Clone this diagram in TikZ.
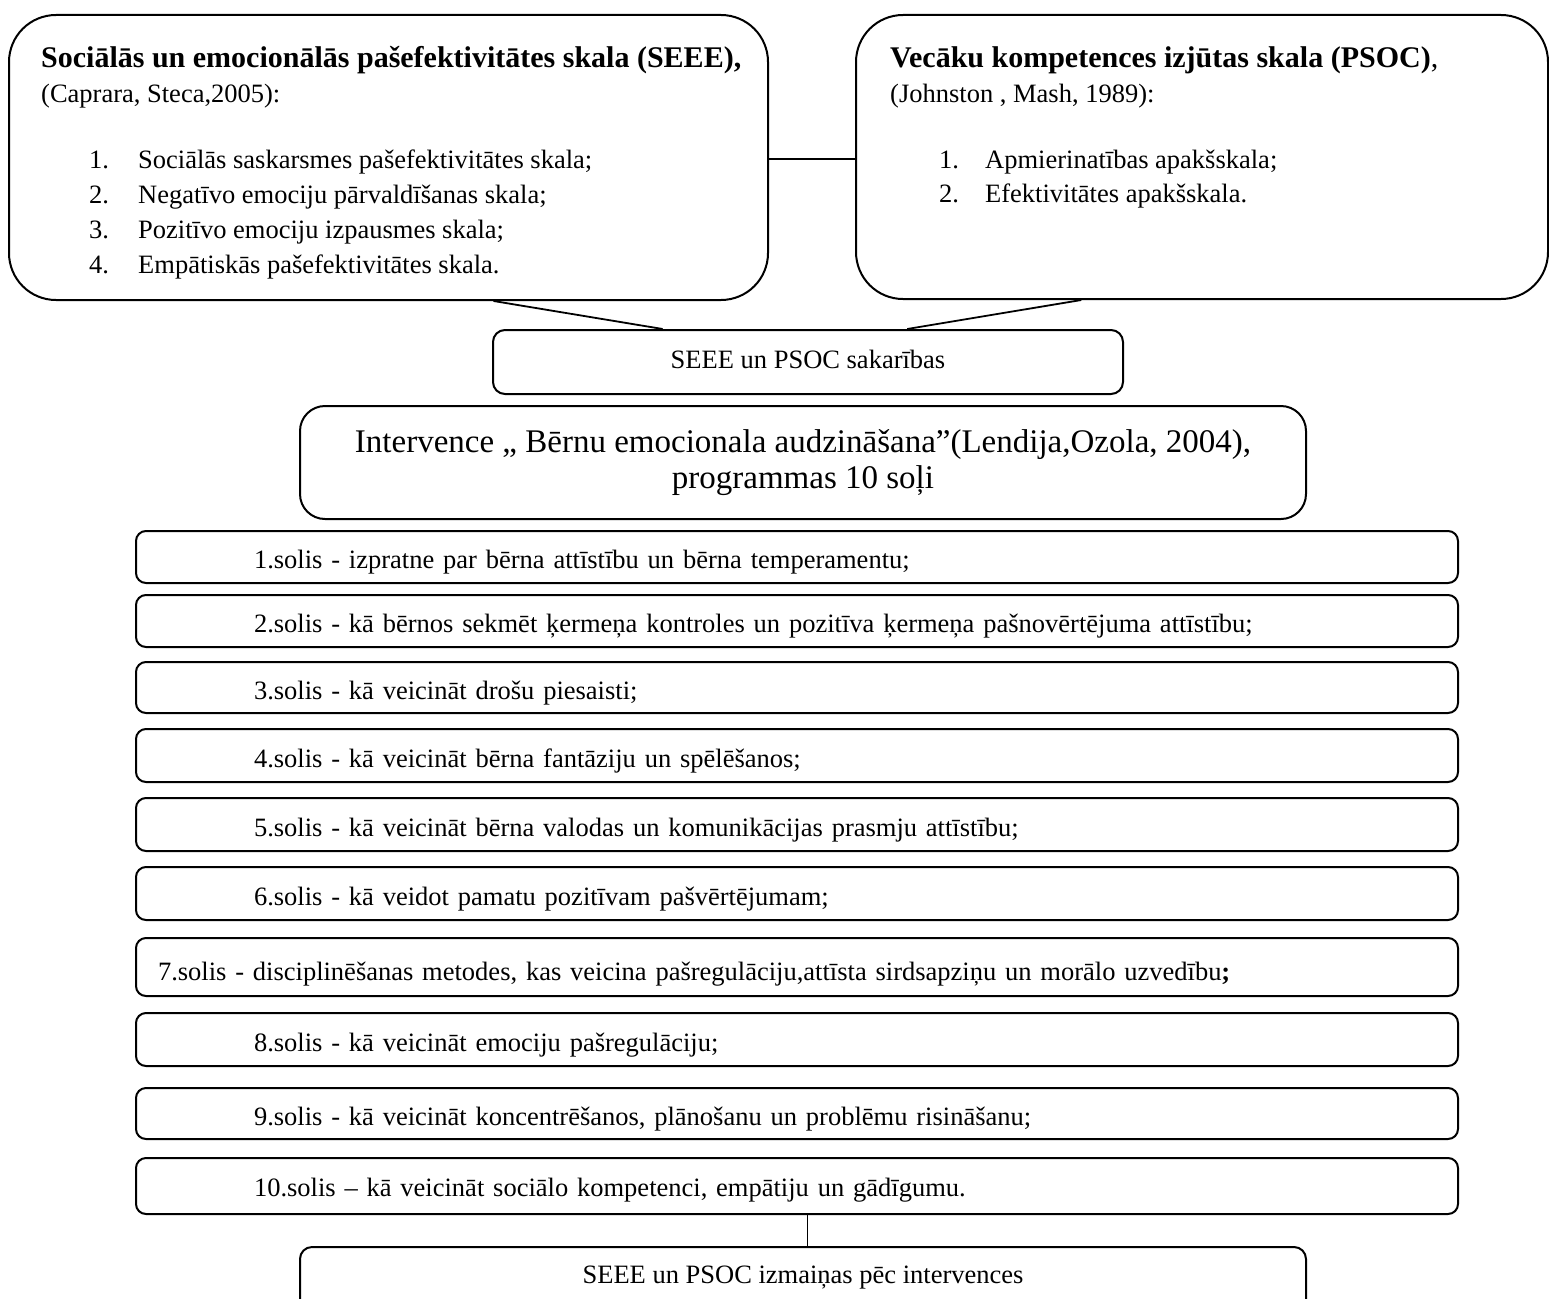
\documentclass[tikz,border=0pt]{standalone}
\usepackage{fontspec}
\setmainfont{Liberation Serif}
\usetikzlibrary{calc}
\newcommand{\mainfs}{\fontsize{26.5pt}{34pt}\selectfont}
\newcommand{\titlefs}{\fontsize{30pt}{34pt}\selectfont}
\newcommand{\bigfs}{\fontsize{33pt}{36pt}\selectfont}
\tikzset{
  boxline/.style={draw=black, line width=2pt, fill=white},
  bigbox/.style={boxline, rounded corners=47pt},
  stepbox/.style={boxline, rounded corners=10pt, minimum width=1322pt,
    text width=1086pt, inner xsep=118pt, inner ysep=0pt, align=left,
    text height=23pt, text depth=0pt, font=\mainfs},
  txt/.style={inner sep=0pt, anchor=base west, font=\mainfs},
  ttl/.style={inner sep=0pt, anchor=base west, font=\titlefs},
  conn/.style={draw=black, line width=1.8pt},
}
\begin{document}
\begin{tikzpicture}[x=1pt,y=-1pt]
\path[use as bounding box, clip] (0,0) rectangle (1549,1298);
\fill[white] (0,0) rectangle (1549,1298);

% top boxes
\node[bigbox, minimum width=759pt, minimum height=285pt] (lt) at (388.5,157.5) {};
\node[bigbox, minimum width=692pt, minimum height=284pt] (rt) at (1202,157) {};

\node[ttl] (ltA) at (41,67) {\textbf{Sociālās un emocionālās pašefektivitātes skala (SEEE),}};
\node[txt] (ltB) at (41,102) {(Caprara, Steca,2005):};
\node[txt] (lt1) at (89,168) {\makebox[49pt][l]{1.}Sociālās saskarsmes pašefektivitātes skala;};
\node[txt] (lt2) at (89,203) {\makebox[49pt][l]{2.}Negatīvo emociju pārvaldīšanas skala;};
\node[txt] (lt3) at (89,238) {\makebox[49pt][l]{3.}Pozitīvo emociju izpausmes skala;};
\node[txt] (lt4) at (89,273) {\makebox[49pt][l]{4.}Empātiskās pašefektivitātes skala.};

\node[ttl] (rtA) at (890,67) {\textbf{Vecāku kompetences izjūtas skala (PSOC)},};
\node[txt] (rtB) at (890,102) {(Johnston , Mash, 1989):};
\node[txt] (rt1) at (939,168) {\makebox[46pt][l]{1.}Apmierinatības apakšskala;};
\node[txt] (rt2) at (939,202) {\makebox[46pt][l]{2.}Efektivitātes apakšskala.};

% middle boxes
\node[boxline, rounded corners=12pt, minimum width=630pt, minimum height=64pt,
  text height=18pt, text depth=6pt, font=\mainfs] (sk) at (808,362) {SEEE un PSOC sakarības};
\node[boxline, rounded corners=25pt, minimum width=1006pt, minimum height=113pt,
  align=center, font=\bigfs] (iv) at (803,462.5)
  {Intervence „ Bērnu emocionala audzināšana”(Lendija,Ozola, 2004),\\programmas 10 soļi};

% steps
\node[stepbox, minimum height=52pt] (s1) at (797,557) {1.solis - izpratne par bērna attīstību un bērna temperamentu;};
\node[stepbox, minimum height=52pt] (s2) at (797,621) {2.solis - kā bērnos sekmēt ķermeņa kontroles un pozitīva ķermeņa pašnovērtējuma attīstību;};
\node[stepbox, minimum height=51pt] (s3) at (797,687.5) {3.solis - kā veicināt drošu piesaisti;};
\node[stepbox, minimum height=53pt] (s4) at (797,755.5) {4.solis - kā veicināt bērna fantāziju un spēlēšanos;};
\node[stepbox, minimum height=53pt] (s5) at (797,824.5) {5.solis - kā veicināt bērna valodas un komunikācijas prasmju attīstību;};
\node[stepbox, minimum height=53pt] (s6) at (797,893.5) {6.solis - kā veidot pamatu pozitīvam pašvērtējumam;};
\node[stepbox, minimum height=58pt, inner xsep=22pt, text width=1278pt, text height=26pt] (s7) at (797,967) {7.solis - disciplinēšanas metodes, kas veicina pašregulāciju,attīsta sirdsapziņu un morālo uzvedību\textbf{;}};
\node[stepbox, minimum height=53pt] (s8) at (797,1039.5) {8.solis - kā veicināt emociju pašregulāciju;};
\node[stepbox, minimum height=51pt] (s9) at (797,1113.5) {9.solis - kā veicināt koncentrēšanos, plānošanu un problēmu risināšanu;};
\node[stepbox, minimum height=56pt, text height=20pt] (s10) at (797,1186) {10.solis – kā veicināt sociālo kompetenci, empātiju un gādīgumu.};

% bottom box
\node[boxline, rounded corners=12pt, minimum width=1006pt, minimum height=72pt,
  text height=10pt, text depth=10pt, font=\mainfs] (bt) at (803,1283) {SEEE un PSOC izmaiņas pēc intervences};

% connectors
\draw[conn] ($(lt.east)+(0,1.5)$) -- ($(rt.west)+(0,2)$);
\draw[conn] ($(lt.south west)!0.638!(lt.south east)$) -- ($(sk.north west)!0.27!(sk.north east)$);
\draw[conn] ($(rt.south west)!0.326!(rt.south east)$) -- ($(sk.north west)!0.657!(sk.north east)$);
\coordinate (v) at ($(s10.south west)!0.508!(s10.south east)$);
\draw[conn] (v) -- (v |- bt.north);
\end{tikzpicture}
\end{document}
